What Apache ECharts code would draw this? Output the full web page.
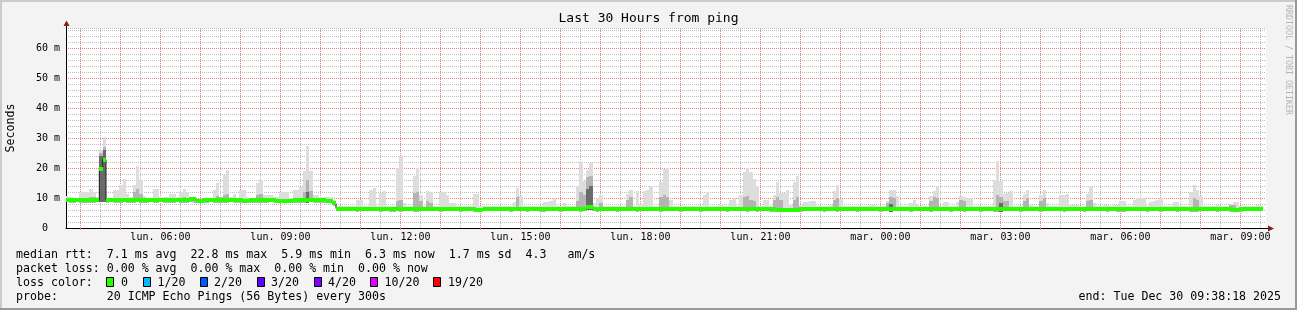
<!DOCTYPE html>
<html><head><meta charset="utf-8">
<script src="https://cdn.jsdelivr.net/npm/echarts@6/dist/echarts.min.js"></script>
<style>html,body{margin:0;padding:0;background:#f3f3f3;}#c{width:1297px;height:310px;}</style>
</head><body><div id="c"></div>
<script>
// ---- time frame (hours since Monday 00:00) ----
const startHour = 3 + 38/60 + 18/3600;   // lun. 03:38:18
const spanHours = 30;
const stepHours = 5/60;                  // 300 s per step
const yMax = 66.667;                     // ms

// ---- tick labels ----
const labelHours = [6, 9, 12, 15, 18, 21, 24, 27, 30, 33];
const labelTexts = ['lun. 06:00','lun. 09:00','lun. 12:00','lun. 15:00','lun. 18:00','lun. 21:00','mar. 00:00','mar. 03:00','mar. 06:00','mar. 09:00'];
const majorHours = [4,5,6,7,8,9,10,11,12,13,14,15,16,17,18,19,20,21,22,23,24,25,26,27,28,29,30,31,32,33];
const minorHours = [4.5,5.5,6.5,7.5,8.5,9.5,10.5,11.5,12.5,13.5,14.5,15.5,16.5,17.5,18.5,19.5,20.5,21.5,22.5,23.5,24.5,25.5,26.5,27.5,28.5,29.5,30.5,31.5,32.5,33.5];

// ---- median rtt per 5-min step (ms) ----
const median = [
9.3,9.3,9.2,9.3,9.3,9.2,9.3,9.2,9.3,9.3,19.7,22.8,9.4,9.3,9.3,9.2,9.3,9.3,9.3,9.2,
9.3,9.3,9.3,9.2,9.3,9.3,9.3,9.3,9.3,9.3,9.3,9.2,9.3,9.3,9.3,9.4,9.4,9.6,9.6,9.1,
9.1,9.2,9.3,9.3,9.3,9.3,9.3,9.2,9.2,9.3,9.3,9.3,9.3,9.1,9.1,9.2,9.3,9.3,9.2,9.2,
9.3,9.3,9.2,9.1,8.9,8.9,9.0,9.1,9.2,9.2,9.2,9.3,9.3,9.3,9.2,9.2,9.2,9.2,9.1,9.1,
8.2,6.5,6.4,6.4,6.3,6.3,6.4,6.3,6.4,6.3,6.3,6.4,6.3,6.3,6.4,6.3,6.2,6.2,6.3,6.3,
6.3,6.4,6.3,6.3,6.3,6.2,6.3,6.3,6.4,6.3,6.3,6.4,6.3,6.3,6.3,6.4,6.3,6.3,6.3,6.4,
6.4,6.3,6.2,6.1,6.1,6.2,6.3,6.4,6.4,6.4,6.5,6.5,6.4,6.4,6.5,6.5,6.4,6.4,6.4,6.5,
6.5,6.5,6.4,6.4,6.4,6.5,6.5,6.4,6.4,6.4,6.5,6.5,6.5,6.4,6.4,6.4,7.0,7.1,6.5,6.4,
6.4,6.4,6.5,6.4,6.4,6.5,6.4,6.4,6.4,6.4,6.4,6.4,6.5,6.4,6.4,6.4,6.3,6.4,6.4,6.4,
6.5,6.4,6.3,6.4,6.4,6.4,6.3,6.4,6.4,6.4,6.3,6.4,6.4,6.4,6.3,6.4,6.4,6.4,6.4,6.3,
6.4,6.4,6.4,6.5,6.5,6.4,6.4,6.3,6.4,6.4,6.3,6.3,6.2,6.0,6.0,6.0,6.1,6.0,6.0,6.1,
6.2,6.3,6.3,6.4,6.4,6.3,6.3,6.3,6.4,6.4,6.4,6.3,6.3,6.4,6.4,6.3,6.4,6.4,6.3,6.4,
6.4,6.3,6.3,6.4,6.4,6.3,6.4,6.3,6.3,6.4,6.4,6.4,6.3,6.4,6.3,6.4,6.4,6.3,6.4,6.4,
6.4,6.4,6.3,6.3,6.4,6.4,6.4,6.3,6.4,6.4,6.4,6.3,6.4,6.4,6.3,6.4,6.4,6.4,6.3,6.2,
6.3,6.4,6.4,6.4,6.4,6.3,6.3,6.4,6.4,6.3,6.4,6.4,6.3,6.3,6.4,6.4,6.4,6.3,6.4,6.4,
6.4,6.4,6.4,6.3,6.4,6.4,6.3,6.4,6.4,6.4,6.3,6.4,6.4,6.4,6.3,6.3,6.2,6.3,6.4,6.4,
6.4,6.3,6.4,6.4,6.4,6.4,6.3,6.4,6.4,6.3,6.4,6.4,6.3,6.3,6.4,6.4,6.4,6.4,6.3,6.3,
6.4,6.4,6.3,6.4,6.4,6.3,6.4,6.4,6.3,6.2,6.1,6.0,6.2,6.3,6.4,6.4,6.3,6.3,6.3,null
];

// ---- slowest ping per step (top of smoke, ms) ----
const smokeHigh = [
10.8,10.3,10.0,10.0,11.9,11.9,11.9,13.0,11.9,10.3,25.9,30.4,10.0,10.0,12.8,12.8,14.5,16.4,11.4,10.2,
14.5,20.8,16.1,10.6,10.0,10.0,13.0,13.0,10.5,10.2,10.2,11.4,11.4,10.3,12.0,13.0,12.0,10.2,10.4,9.8,
9.8,10.0,10.0,10.0,12.8,15.0,10.3,17.8,19.2,10.3,11.4,10.0,12.8,12.8,10.2,10.0,10.0,15.0,16.1,11.0,
11.1,11.1,10.5,10.5,11.9,11.9,11.9,10.0,12.8,12.8,13.7,18.9,27.2,18.9,11.1,11.1,10.2,10.2,10.5,10.5,
9.5,7.5,7.4,7.3,7.2,7.2,7.3,9.2,9.2,7.3,7.2,12.8,13.4,7.5,11.7,12.5,7.3,7.2,7.3,20.0,
23.9,8.4,7.3,7.4,17.5,20.0,11.0,7.4,12.5,12.0,7.2,7.5,12.0,12.0,11.0,8.4,8.4,7.4,7.3,7.3,
7.3,7.5,11.5,11.5,7.5,7.5,7.5,7.5,7.2,7.2,7.2,7.3,7.5,7.5,8.6,13.4,10.6,7.3,7.2,7.2,
7.2,7.2,7.3,8.6,8.6,9.0,10.0,7.3,7.3,8.4,7.2,7.2,7.3,13.9,22.0,15.6,19.2,21.7,8.4,10.0,
11.1,7.3,7.2,7.2,7.3,7.2,7.3,7.4,11.5,12.8,7.3,12.2,8.0,12.2,12.6,13.9,7.4,7.3,15.2,19.7,
20.0,9.5,7.3,7.2,7.2,7.3,7.2,7.3,7.5,7.2,7.3,10.9,12.0,7.4,7.3,7.2,8.1,7.2,7.3,9.2,
10.0,7.4,11.1,18.7,20.0,18.7,16.4,13.9,7.5,9.2,9.2,7.5,11.1,15.4,11.7,11.7,12.8,7.6,15.2,17.2,
7.6,8.6,8.6,8.9,8.9,7.3,7.2,7.2,7.3,7.6,12.2,14.2,9.7,7.3,7.2,7.3,7.2,7.3,7.2,7.4,
7.3,7.6,7.6,7.2,7.3,7.3,8.9,12.6,12.8,10.6,7.3,7.2,7.3,8.4,9.2,7.6,7.3,7.2,7.3,10.8,
12.2,14.1,7.3,8.6,8.6,7.3,7.2,8.6,10.6,10.4,10.0,10.0,7.3,7.2,7.3,7.2,7.3,7.4,15.9,22.2,
15.6,11.5,11.7,12.5,7.3,7.2,7.3,11.4,12.8,7.6,7.3,7.2,10.9,12.8,8.4,7.3,7.2,7.3,10.9,10.9,
11.5,7.6,7.6,7.6,7.3,7.2,11.5,13.6,8.4,7.3,7.2,7.6,7.6,7.3,7.7,7.7,8.9,9.1,7.3,7.2,
9.5,10.0,10.0,10.0,7.3,8.6,8.9,9.2,10.0,7.3,7.2,7.3,8.6,8.6,7.3,7.2,7.3,11.9,14.5,12.8,
10.6,7.3,7.2,7.3,7.2,7.7,7.3,7.2,7.3,8.0,8.6,8.6,7.3,7.2,7.3,7.2,7.3,7.7,7.3,null
];

// ---- fastest ping per step (bottom of smoke, ms) ----
const smokeLow = [
8.6,8.5,8.5,8.6,8.5,8.4,8.5,8.3,8.5,8.6,8.8,8.6,8.5,8.6,8.5,8.4,8.5,8.6,8.5,8.5,
8.5,8.6,8.4,8.5,8.5,8.6,8.5,8.5,8.6,8.5,8.5,8.4,8.5,8.6,8.5,8.3,8.4,8.6,8.5,8.2,
8.3,8.5,8.5,8.6,8.5,8.4,8.5,8.5,8.5,8.6,8.5,8.5,8.4,8.3,8.2,8.4,8.5,8.5,8.4,8.5,
8.5,8.6,8.5,8.4,8.2,8.2,8.3,8.4,8.5,8.5,8.4,8.5,8.5,8.6,8.5,8.5,8.5,8.4,8.4,8.4,
7.3,5.7,5.6,5.7,5.6,5.6,5.7,5.5,5.6,5.7,5.6,5.6,5.7,5.6,5.5,5.6,5.6,5.4,5.5,5.6,
5.5,5.6,5.7,5.6,5.5,5.4,5.6,5.6,5.6,5.7,5.6,5.6,5.5,5.6,5.6,5.7,5.6,5.6,5.5,5.6,
5.7,5.6,5.5,5.3,5.4,5.6,5.6,5.7,5.6,5.6,5.7,5.6,5.6,5.5,5.6,5.7,5.6,5.6,5.5,5.6,
5.6,5.7,5.5,5.4,5.6,5.6,5.7,5.6,5.5,5.6,5.6,5.7,5.6,5.6,5.5,5.6,6.0,6.1,5.6,5.5,
5.6,5.6,5.7,5.6,5.6,5.5,5.6,5.6,5.7,5.6,5.6,5.5,5.6,5.6,5.7,5.6,5.6,5.6,5.5,5.6,
5.6,5.7,5.6,5.6,5.5,5.6,5.6,5.7,5.6,5.6,5.5,5.6,5.6,5.6,5.7,5.6,5.6,5.6,5.5,5.6,
5.6,5.6,5.7,5.6,5.5,5.6,5.6,5.5,5.6,5.6,5.6,5.5,5.4,5.2,5.3,5.3,5.4,5.3,5.3,5.4,
5.5,5.6,5.6,5.6,5.7,5.6,5.6,5.5,5.6,5.6,5.6,5.5,5.6,5.6,5.7,5.6,5.6,5.5,5.6,5.6,
5.6,5.7,5.6,5.6,5.5,5.6,5.6,5.5,5.6,5.6,5.7,5.6,5.6,5.5,5.6,5.6,5.6,5.7,5.6,5.5,
5.6,5.6,5.6,5.7,5.6,5.5,5.6,5.6,5.6,5.5,5.6,5.7,5.6,5.6,5.5,5.6,5.6,5.6,5.5,5.4,
5.5,5.6,5.6,5.7,5.6,5.6,5.5,5.6,5.6,5.6,5.7,5.6,5.5,5.6,5.6,5.6,5.7,5.6,5.6,5.5,
5.6,5.6,5.7,5.6,5.6,5.5,5.6,5.6,5.6,5.7,5.6,5.6,5.5,5.6,5.6,5.5,5.4,5.5,5.6,5.6,
5.6,5.7,5.6,5.6,5.5,5.6,5.6,5.6,5.5,5.6,5.7,5.6,5.6,5.5,5.6,5.6,5.6,5.5,5.4,5.5,
5.6,5.6,5.7,5.6,5.6,5.5,5.6,5.6,5.6,5.5,5.3,5.2,5.5,5.6,5.6,5.7,5.6,5.6,5.6,null
];

// ---- denser smoke (mid-grey band top) at selected steps ----
const midSteps = [7,8,10,11,20,21,22,35,45,46,47,48,57,58,71,72,73,99,100,104,105,106,108,109,135,153,154,155,156,157,160,168,169,178,179,180,203,204,205,206,212,213,214,218,219,230,231,246,247,248,259,260,261,268,269,279,280,281,282,287,288,292,293,306,307,338,339,349,350];
const midTops  = [10.5,10.5,25.0,27.0,12.0,13.0,11.5,10.5,10.8,10.5,11.0,11.5,11.0,11.5,12.0,16.0,12.5,9.0,9.5,11.7,12.0,9.0,9.0,8.5,10.5,9.0,12.0,11.0,17.0,17.5,8.5,9.5,10.5,10.5,11.0,10.5,10.5,10.6,9.5,9.0,9.5,10.5,9.5,9.5,10.5,9.5,10.0,8.5,10.5,10.0,9.0,10.5,10.0,9.5,9.0,11.0,10.5,9.0,9.0,9.0,10.0,9.0,10.0,9.0,9.5,10.0,9.5,7.8,7.8];
// ---- darkest smoke core at selected steps ----
const darkSteps = [10,11,72,156,157,247,280];
const darkTops  = [24.0,26.0,12.0,13.0,14.0,8.0,8.5];

// ---- legend ----
const lossLabels = ['0','1/20','2/20','3/20','4/20','10/20','19/20'];
const lossColors = ['#26ff00','#00b8ff','#0059ff','#5e00ff','#7e00ff','#dd00ff','#ff0000'];
const legendRows = [
  'median rtt:  7.1 ms avg  22.8 ms max  5.9 ms min  6.3 ms now  1.7 ms sd  4.3   am/s',
  'packet loss: 0.00 % avg  0.00 % max  0.00 % min  0.00 % now',
  'loss color:',
  'probe:       20 ICMP Echo Pings (56 Bytes) every 300s'
];
const endText = 'end: Tue Dec 30 09:38:18 2025';

// ---------------- build ----------------
const MONO = 'DejaVu Sans Mono';
const midMap = {}; midSteps.forEach((s,k)=>{midMap[s]=midTops[k];});
const darkMap = {}; darkSteps.forEach((s,k)=>{darkMap[s]=darkTops[k];});
const lightData=[], midData=[], darkData=[], greenData=[], lineData=[];
for (let i=0;i<median.length;i++){
  if (median[i]==null) continue;
  const t0 = startHour + i*stepHours, t1 = t0 + stepHours;
  lightData.push([t0,t1,smokeLow[i],smokeHigh[i]]);
  midData.push([t0,t1,smokeLow[i], midMap[i]!=null ? midMap[i] : median[i]]);
  if (darkMap[i]!=null) darkData.push([t0,t1,smokeLow[i],darkMap[i]]);
  greenData.push([t0,t1,median[i],median[i]]);
  lineData.push([t0,median[i]],[t1,median[i]]);
}

function bandRender(color){
  return function(params, api){
    const a = api.coord([api.value(0), api.value(2)]);
    const b = api.coord([api.value(1), api.value(3)]);
    const L = Math.round(a[0]), R = Math.round(b[0]);
    const T = Math.round(b[1]), B = Math.round(a[1]);
    return {type:'rect', shape:{x:L, y:T, width:R-L, height:Math.max(B-T,1)}, style:{fill:color}};
  };
}
function greenRender(params, api){
  const a = api.coord([api.value(0), api.value(2)]);
  const b = api.coord([api.value(1), api.value(2)]);
  const L = Math.round(a[0]), R = Math.round(b[0]);
  return {type:'rect', shape:{x:L, y:Math.round(a[1])-2, width:R-L, height:4}, style:{fill:'#26ff00'}};
}
function vgridRender(color){
  return function(params, api){
    const a = api.coord([api.value(0), 0]);
    const b = api.coord([api.value(0), yMax]);
    const x = Math.floor(a[0]) + 0.5;
    return {type:'line', shape:{x1:x, y1:a[1], x2:x, y2:b[1]}, style:{stroke:color, lineWidth:1, lineDash:[1,1]}};
  };
}

const graphics = [];
// frame
graphics.push({type:'rect', shape:{x:0,y:0,width:1297,height:2}, style:{fill:'#cbcbcb'}, silent:true});
graphics.push({type:'rect', shape:{x:0,y:0,width:2,height:310}, style:{fill:'#cbcbcb'}, silent:true});
graphics.push({type:'rect', shape:{x:0,y:308,width:1297,height:2}, style:{fill:'#999999'}, silent:true});
graphics.push({type:'rect', shape:{x:1295,y:0,width:2,height:310}, style:{fill:'#999999'}, silent:true});
// axis extensions + arrows
graphics.push({type:'line', shape:{x1:66.5,y1:28,x2:66.5,y2:24}, style:{stroke:'#000',lineWidth:1}, silent:true});
graphics.push({type:'polygon', shape:{points:[[63.5,26],[69.5,26],[66.5,20.5]]}, style:{fill:'#8b1c1c'}, silent:true});
graphics.push({type:'line', shape:{x1:1266,y1:228.5,x2:1269,y2:228.5}, style:{stroke:'#000',lineWidth:1}, silent:true});
graphics.push({type:'polygon', shape:{points:[[1268,225.5],[1268,231.5],[1274,228.5]]}, style:{fill:'#8b1c1c'}, silent:true});
// side texts
graphics.push({type:'text', x:11, y:128, rotation:Math.PI/2, style:{text:'Seconds', font:'11.6px "DejaVu Sans Mono"', fill:'#000', align:'center', verticalAlign:'middle'}, silent:true});
graphics.push({type:'text', x:1288, y:60, rotation:-Math.PI/2, style:{text:'RRDTOOL / TOBI OETIKER', font:'8.3px "DejaVu Sans Mono"', fill:'#b4b4b4', align:'center', verticalAlign:'middle'}, silent:true});
// legend rows
const rowY = [254.5, 268.5, 282.5, 296.5];
legendRows.forEach((t,k)=>{
  graphics.push({type:'text', x:16, y:rowY[k], style:{text:t, font:'11.6px "DejaVu Sans Mono"', fill:'#000', align:'left', verticalAlign:'middle'}, silent:true});
});
const boxX = [106, 143, 200, 257, 314, 370, 433];
const txtX = [121, 157.5, 214, 271, 328, 384.5, 448];
lossLabels.forEach((t,k)=>{
  graphics.push({type:'rect', shape:{x:boxX[k]+0.5,y:277.5,width:7,height:9}, style:{fill:lossColors[k], stroke:'#000', lineWidth:1}, silent:true});
  graphics.push({type:'text', x:txtX[k], y:rowY[2], style:{text:t, font:'11.6px "DejaVu Sans Mono"', fill:'#000', align:'left', verticalAlign:'middle'}, silent:true});
});
graphics.push({type:'text', x:1281, y:rowY[3], style:{text:endText, font:'11.6px "DejaVu Sans Mono"', fill:'#000', align:'right', verticalAlign:'middle'}, silent:true});

const RED = '#ec8080', GRAY = '#bdbdbd';
const chart = echarts.init(document.getElementById('c'), null, {renderer:'canvas'});
chart.setOption({
  animation:false,
  backgroundColor:'#f3f3f3',
  title:{text:'Last 30 Hours from ping', left:'center', top:12, padding:0,
    textStyle:{fontFamily:MONO, fontSize:13, fontWeight:'normal', color:'#000'}},
  grid:{left:66, right:31, top:28, height:200, show:true, backgroundColor:'#ffffff', borderWidth:0, containLabel:false},
  xAxis:{type:'value', min:startHour, max:startHour+spanHours,
    axisLine:{show:true, onZero:false, lineStyle:{color:'#000', width:1}},
    axisTick:{show:true, customValues:majorHours, length:2, lineStyle:{color:RED}},
    axisLabel:{customValues:labelHours, margin:4, fontFamily:MONO, fontSize:10, color:'#000',
      formatter:function(v){ for (let k=0;k<labelHours.length;k++){ if (Math.abs(labelHours[k]-v)<1e-6) return labelTexts[k]; } return ''; }},
    splitLine:{show:false}},
  yAxis:{type:'value', min:0, max:yMax, interval:2,
    axisLine:{show:true, lineStyle:{color:'#000', width:1}},
    axisTick:{show:false},
    axisLabel:{margin:6, fontFamily:MONO, fontSize:10, color:'#000', showMaxLabel:false,
      formatter:function(v){ const r = Math.round(v/10)*10; if (Math.abs(v-r)>1e-6) return ''; return r===0 ? '0  ' : r+' m'; }},
    splitLine:{show:true, lineStyle:{color:[RED,GRAY,GRAY,GRAY,GRAY], width:1, type:[1,1]}}},
  graphic:graphics,
  series:[
    {type:'custom', name:'minor grid', coordinateSystem:'cartesian2d', renderItem:vgridRender(GRAY), data:minorHours.map(h=>[h,0]), encode:{x:0,y:1}, silent:true, clip:true, z:1},
    {type:'custom', name:'major grid', coordinateSystem:'cartesian2d', renderItem:vgridRender(RED), data:majorHours.map(h=>[h,0]), encode:{x:0,y:1}, silent:true, clip:true, z:1},
    {type:'custom', name:'smoke', coordinateSystem:'cartesian2d', renderItem:bandRender('#dddddd'), data:lightData, encode:{x:[0,1],y:[2,3]}, silent:true, clip:true, z:2},
    {type:'custom', name:'smoke mid', coordinateSystem:'cartesian2d', renderItem:bandRender('#b4b4b4'), data:midData, encode:{x:[0,1],y:[2,3]}, silent:true, clip:true, z:2},
    {type:'custom', name:'smoke dark', coordinateSystem:'cartesian2d', renderItem:bandRender('#6a6a6a'), data:darkData, encode:{x:[0,1],y:[2,3]}, silent:true, clip:true, z:2},
    {type:'line', name:'median', data:lineData, showSymbol:false, symbol:'none', lineStyle:{color:'#202020', width:1}, silent:true, z:3},
    {type:'custom', name:'median loss 0', coordinateSystem:'cartesian2d', renderItem:greenRender, data:greenData, encode:{x:[0,1],y:[2,3]}, silent:true, clip:true, z:4}
  ]
});
</script>
</body></html>
